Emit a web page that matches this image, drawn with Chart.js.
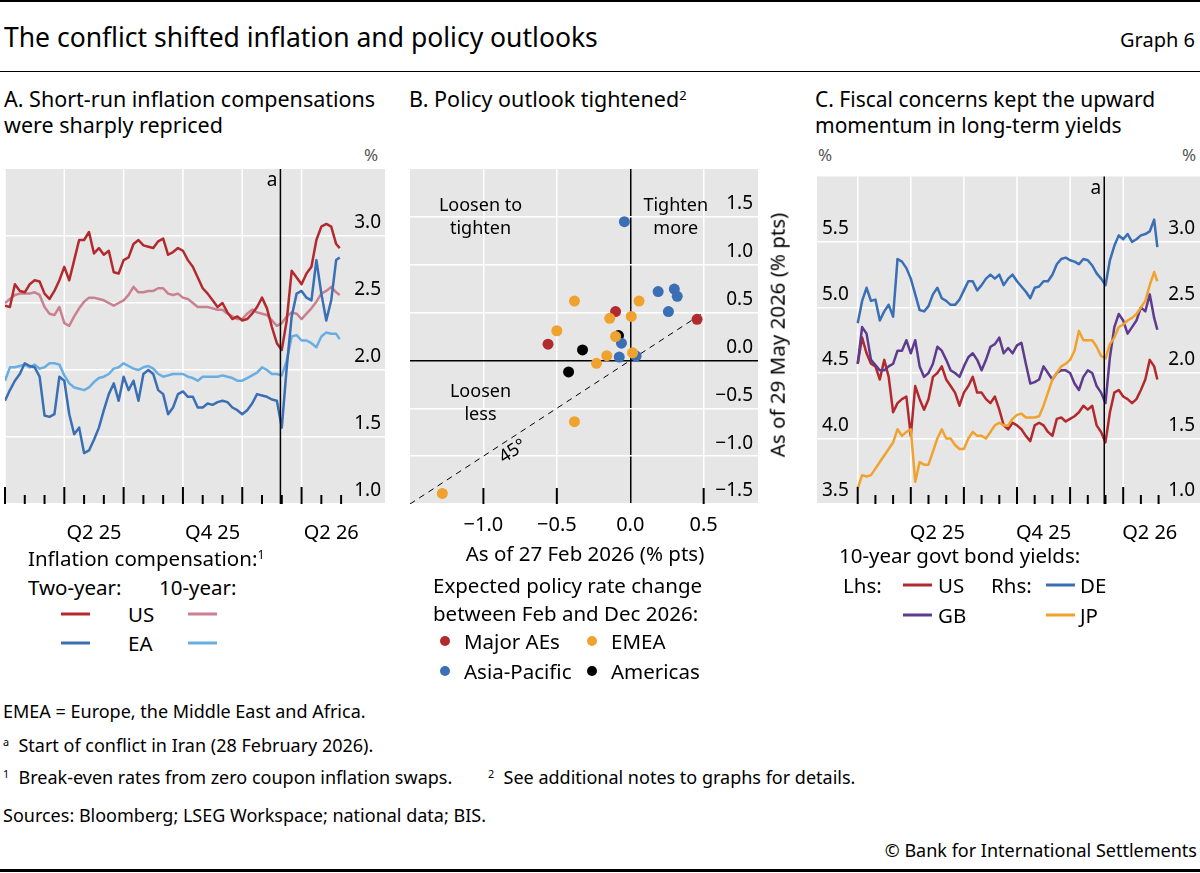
<!DOCTYPE html>
<html>
<head>
<meta charset="utf-8">
<script src="https://cdn.jsdelivr.net/npm/chart.js@4.4.1/dist/chart.umd.min.js"></script>
<style>
  body { margin: 0; width: 1200px; height: 873px; position: relative; background: #fff; font-family: "Noto Sans", sans-serif; color: #000; overflow: hidden; }
  .t { position: absolute; white-space: nowrap; line-height: 1.2; transform: translateY(-50%); }
  .rule { position: absolute; left: 0; width: 1200px; background: #000; }
  canvas { position: absolute; }
  sup { font-size: 0.6em; vertical-align: 0.55em; line-height: 0; }
  .sw { position: absolute; height: 3px; transform: translateY(-50%); }
  .dot { position: absolute; width: 10px; height: 10px; border-radius: 50%; transform: translate(-50%, -50%); }
  .fn { font-size: 18px; }
  .lg { font-size: 20.5px; }
</style>
</head>
<body>

<div class="rule" style="top:0;height:2px"></div>
<div class="t" style="left:4px;top:38px;font-size:26.5px">The conflict shifted inflation and policy outlooks</div>
<div class="t" style="right:5px;top:40px;font-size:20px">Graph 6</div>
<div class="rule" style="top:71px;height:1px"></div>

<!-- panel titles -->
<div class="t" style="left:4px;top:112px;font-size:21.5px;line-height:26px">A. Short-run inflation compensations<br>were sharply repriced</div>
<div class="t" style="left:409px;top:99px;font-size:21.5px;line-height:26px">B. Policy outlook tightened<sup>2</sup></div>
<div class="t" style="left:815px;top:112px;font-size:21px;line-height:26px">C. Fiscal concerns kept the upward<br>momentum in long-term yields</div>

<div class="t" style="left:364px;top:155px;font-size:17px;color:#555">%</div>
<div class="t" style="left:818px;top:155px;font-size:17px;color:#555">%</div>
<div class="t" style="left:1182px;top:155px;font-size:17px;color:#555">%</div>

<canvas id="chartA" width="400" height="390" style="left:0;top:160px"></canvas>
<canvas id="chartB" width="400" height="390" style="left:400px;top:160px"></canvas>
<canvas id="chartC" width="400" height="390" style="left:800px;top:160px"></canvas>

<!-- panel B axis titles -->
<div class="t lg" style="left:585px;top:553px;transform:translate(-50%,-50%)">As of 27 Feb 2026 (% pts)</div>
<div class="t lg" style="left:777px;top:335px;transform:translate(-50%,-50%) rotate(-90deg)">As of 29 May 2026 (% pts)</div>

<!-- legend A -->
<div class="t lg" style="left:28px;top:558px">Inflation compensation:<sup>1</sup></div>
<div class="t lg" style="left:28px;top:587px">Two-year:</div>
<div class="t lg" style="left:159px;top:587px">10-year:</div>
<div class="sw" style="left:61px;top:614px;width:29px;background:#b22a2e"></div>
<div class="t lg" style="left:128px;top:614px">US</div>
<div class="sw" style="left:188px;top:614px;width:29px;background:#c9808f"></div>
<div class="sw" style="left:61px;top:643px;width:29px;background:#3a6eb5"></div>
<div class="t lg" style="left:128px;top:643px">EA</div>
<div class="sw" style="left:188px;top:643px;width:29px;background:#69aee3"></div>

<!-- legend B -->
<div class="t lg" style="left:433px;top:585px">Expected policy rate change</div>
<div class="t lg" style="left:433px;top:613px">between Feb and Dec 2026:</div>
<div class="dot" style="left:445px;top:641px;background:#b22a2e"></div>
<div class="t lg" style="left:464px;top:641px">Major AEs</div>
<div class="dot" style="left:592px;top:641px;background:#f0a22e"></div>
<div class="t lg" style="left:611px;top:641px">EMEA</div>
<div class="dot" style="left:445px;top:671px;background:#3a6eb5"></div>
<div class="t lg" style="left:464px;top:671px">Asia-Pacific</div>
<div class="dot" style="left:592px;top:671px;background:#000"></div>
<div class="t lg" style="left:611px;top:671px">Americas</div>

<!-- legend C -->
<div class="t lg" style="left:839px;top:555px">10-year govt bond yields:</div>
<div class="t lg" style="left:843px;top:585px">Lhs:</div>
<div class="sw" style="left:903px;top:585px;width:29px;background:#b22a2e"></div>
<div class="t lg" style="left:938px;top:585px">US</div>
<div class="t lg" style="left:991px;top:585px">Rhs:</div>
<div class="sw" style="left:1046px;top:585px;width:29px;background:#3a6eb5"></div>
<div class="t lg" style="left:1080px;top:585px">DE</div>
<div class="sw" style="left:903px;top:615px;width:29px;background:#5e3b8f"></div>
<div class="t lg" style="left:938px;top:615px">GB</div>
<div class="sw" style="left:1046px;top:615px;width:29px;background:#f0a22e"></div>
<div class="t lg" style="left:1080px;top:615px">JP</div>

<!-- footer -->
<div class="t fn" style="left:3px;top:712px">EMEA = Europe, the Middle East and Africa.</div>
<div class="t fn" style="left:3px;top:746px"><sup>a</sup>&nbsp; Start of conflict in Iran (28 February 2026).</div>
<div class="t fn" style="left:3px;top:778px"><sup>1</sup>&nbsp; Break-even rates from zero coupon inflation swaps.</div>
<div class="t fn" style="left:488px;top:778px"><sup>2</sup>&nbsp; See additional notes to graphs for details.</div>
<div class="t fn" style="left:3px;top:816px">Sources: Bloomberg; LSEG Workspace; national data; BIS.</div>
<div class="t fn" style="right:3px;top:851px">© Bank for International Settlements</div>
<div class="rule" style="top:869px;height:3px"></div>

<script>
// x positions, months since 1 Jan 2025 (roughly weekly)
const months = [0, 0.25, 0.5, 0.75, 1, 1.25, 1.5, 1.75, 2, 2.25, 2.5, 2.75, 3, 3.25, 3.5, 3.75,
  4, 4.25, 4.5, 4.75, 5, 5.25, 5.5, 5.75, 6, 6.25, 6.5, 6.75, 7, 7.25, 7.5, 7.75,
  8, 8.25, 8.5, 8.75, 9, 9.25, 9.5, 9.75, 10, 10.25, 10.5, 10.75, 11, 11.25, 11.5, 11.75,
  12, 12.25, 12.5, 12.75, 13, 13.25, 13.5, 13.75, 14, 14.25, 14.5, 14.75, 15, 15.25, 15.5, 15.75,
  16, 16.25, 16.5, 16.75, 16.93];

const quarterStarts = [0, 3, 6, 9, 12, 15];
const monthTicks = [0, 1, 2, 3, 4, 5, 6, 7, 8, 9, 10, 11, 12, 13, 14, 15, 16, 17];
const quarterLabelPos = [4.5, 10.5, 16.5];
const quarterLabels = ['Q2 25', 'Q4 25', 'Q2 26'];
const conflictStart = 13.93; // 28 Feb 2026

// Panel A: inflation compensation, %
const usTwoYear = [2.48, 2.47, 2.64, 2.59, 2.58, 2.64, 2.67, 2.66, 2.57, 2.53, 2.59, 2.67, 2.77, 2.67, 2.82, 2.97,
  2.97, 3.03, 2.87, 2.91, 2.86, 2.89, 2.73, 2.72, 2.82, 2.84, 2.94, 2.97, 2.93, 2.92, 2.91, 2.96,
  2.98, 2.86, 2.88, 2.91, 2.89, 2.82, 2.77, 2.69, 2.61, 2.57, 2.52, 2.47, 2.50, 2.43, 2.38, 2.40,
  2.37, 2.38, 2.42, 2.47, 2.54, 2.46, 2.32, 2.20, 2.15, 2.37, 2.74, 2.69, 2.64, 2.72, 2.77, 2.97,
  3.07, 3.09, 3.07, 2.94, 2.91];
const usTenYear = [2.50, 2.53, 2.56, 2.57, 2.57, 2.57, 2.58, 2.56, 2.47, 2.42, 2.41, 2.47, 2.35, 2.33, 2.40, 2.46,
  2.51, 2.54, 2.54, 2.53, 2.52, 2.50, 2.48, 2.50, 2.52, 2.56, 2.62, 2.58, 2.58, 2.59, 2.59, 2.61,
  2.61, 2.57, 2.56, 2.57, 2.54, 2.53, 2.50, 2.47, 2.47, 2.47, 2.46, 2.45, 2.45, 2.42, 2.40, 2.38,
  2.38, 2.42, 2.45, 2.43, 2.42, 2.41, 2.37, 2.33, 2.35, 2.40, 2.43, 2.42, 2.38, 2.42, 2.46, 2.51,
  2.57, 2.59, 2.62, 2.58, 2.56];
const eaTwoYear = [1.77, 1.85, 1.92, 1.97, 2.05, 2.03, 2.02, 1.95, 1.66, 1.65, 1.67, 1.95, 1.92, 1.67, 1.52, 1.57,
  1.38, 1.40, 1.48, 1.57, 1.70, 1.82, 1.90, 1.77, 1.95, 1.85, 1.92, 1.77, 1.97, 2.00, 1.97, 1.85,
  1.82, 1.67, 1.72, 1.82, 1.84, 1.80, 1.80, 1.72, 1.72, 1.75, 1.74, 1.76, 1.77, 1.76, 1.72, 1.70,
  1.67, 1.70, 1.75, 1.82, 1.81, 1.80, 1.78, 1.77, 1.57, 2.02, 2.40, 2.57, 2.59, 2.54, 2.52, 2.82,
  2.57, 2.37, 2.52, 2.82, 2.84];
const eaTenYear = [1.92, 2.02, 2.02, 2.03, 2.04, 2.02, 2.04, 2.01, 2.02, 2.05, 2.05, 2.04, 1.96, 1.90, 1.87, 1.86,
  1.85, 1.87, 1.91, 1.94, 1.95, 1.97, 2.01, 2.02, 2.05, 2.03, 2.01, 2.00, 2.02, 2.03, 2.01, 1.97,
  1.95, 1.96, 1.97, 1.97, 1.97, 1.95, 1.94, 1.92, 1.95, 1.95, 1.95, 1.95, 1.96, 1.95, 1.94, 1.92,
  1.92, 1.94, 1.96, 1.98, 2.02, 2.00, 1.97, 1.97, 1.96, 2.07, 2.25, 2.26, 2.22, 2.22, 2.20, 2.17,
  2.25, 2.28, 2.27, 2.27, 2.23];
const ticksA = [1.0, 1.5, 2.0, 2.5, 3.0];

// Panel B: expected policy rate change, % pts (x = as of 27 Feb, y = as of 29 May)
const majorAEsX = [-0.10, -0.56, 0.455];
const majorAEsY = [0.51, 0.17, 0.43];
const emeaX = [-0.38, 0.06, -0.14, 0.007, -0.50, -0.10, -0.16, 0.016, -0.23, -0.38, -1.28];
const emeaY = [0.62, 0.62, 0.44, 0.46, 0.31, 0.25, 0.05, 0.08, -0.03, -0.64, -1.39];
const asiaPacX = [-0.04, 0.19, 0.30, 0.32, 0.26, -0.06, -0.075, 0.04];
const asiaPacY = [1.45, 0.72, 0.745, 0.67, 0.51, 0.18, 0.035, 0.045];
const americasX = [-0.08, -0.325, -0.42];
const americasY = [0.26, 0.11, -0.12];
const diagonal = [-1.5, 0.5];
const ticksBx = [-1.0, -0.5, 0.0, 0.5];
const ticksBy = [-1.5, -1.0, -0.5, 0.0, 0.5, 1.0, 1.5];

// Panel C: 10-year govt bond yields, %
const usYield = [4.57, 4.77, 4.65, 4.57, 4.55, 4.45, 4.60, 4.47, 4.20, 4.27, 4.30, 4.32, 4.02, 4.40, 4.30, 4.22,
  4.30, 4.47, 4.50, 4.55, 4.45, 4.40, 4.35, 4.25, 4.35, 4.40, 4.47, 4.35, 4.35, 4.30, 4.27, 4.32,
  4.22, 4.10, 4.07, 4.12, 4.10, 4.07, 4.02, 3.98, 4.10, 4.12, 4.10, 4.05, 4.02, 4.15, 4.16, 4.13,
  4.15, 4.17, 4.20, 4.25, 4.22, 4.25, 4.10, 4.05, 3.97, 4.20, 4.35, 4.37, 4.32, 4.30, 4.27, 4.30,
  4.37, 4.45, 4.60, 4.55, 4.45];
const gbYield = [4.57, 4.85, 4.80, 4.60, 4.56, 4.52, 4.52, 4.55, 4.57, 4.67, 4.67, 4.75, 4.65, 4.75, 4.55, 4.47,
  4.50, 4.57, 4.70, 4.67, 4.60, 4.52, 4.50, 4.47, 4.55, 4.62, 4.65, 4.60, 4.52, 4.60, 4.70, 4.72,
  4.77, 4.65, 4.69, 4.65, 4.71, 4.73, 4.57, 4.42, 4.43, 4.45, 4.55, 4.50, 4.45, 4.50, 4.52, 4.52,
  4.50, 4.42, 4.37, 4.47, 4.52, 4.50, 4.40, 4.35, 4.27, 4.62, 4.85, 4.95, 4.90, 4.80, 4.85, 4.90,
  5.00, 4.97, 5.10, 4.92, 4.83];
const deYield = [2.38, 2.55, 2.65, 2.55, 2.56, 2.40, 2.47, 2.52, 2.43, 2.87, 2.85, 2.80, 2.72, 2.60, 2.48, 2.47,
  2.51, 2.60, 2.65, 2.57, 2.55, 2.52, 2.52, 2.56, 2.63, 2.70, 2.70, 2.63, 2.67, 2.72, 2.75, 2.72,
  2.75, 2.67, 2.72, 2.75, 2.70, 2.66, 2.62, 2.57, 2.65, 2.66, 2.70, 2.70, 2.75, 2.83, 2.87, 2.88,
  2.86, 2.85, 2.83, 2.87, 2.86, 2.82, 2.76, 2.72, 2.67, 2.86, 2.97, 3.05, 3.02, 3.06, 3.00, 3.02,
  3.05, 3.06, 3.08, 3.17, 2.96];
const jpYield = [1.12, 1.22, 1.21, 1.22, 1.27, 1.32, 1.37, 1.42, 1.47, 1.57, 1.52, 1.55, 1.57, 1.17, 1.32, 1.30,
  1.30, 1.40, 1.50, 1.57, 1.50, 1.50, 1.45, 1.42, 1.42, 1.50, 1.55, 1.52, 1.52, 1.50, 1.55, 1.60,
  1.62, 1.60, 1.60, 1.65, 1.68, 1.69, 1.66, 1.66, 1.66, 1.67, 1.75, 1.85, 1.95, 2.00, 2.05, 2.07,
  2.10, 2.17, 2.32, 2.25, 2.25, 2.25, 2.20, 2.13, 2.11, 2.22, 2.27, 2.35, 2.37, 2.40, 2.42, 2.45,
  2.50, 2.55, 2.67, 2.77, 2.70];
const ticksCLeft = [3.5, 4.0, 4.5, 5.0, 5.5];
const ticksCRight = [1.0, 1.5, 2.0, 2.5, 3.0];

const RED = '#b22a2e', PINK = '#c9808f', BLUE = '#3a6eb5', LIGHTBLUE = '#69aee3';
const PURPLE = '#5e3b8f', ORANGE = '#f0a22e', PANEL = '#e6e6e6';

Chart.defaults.font.family = '"Noto Sans", sans-serif';
Chart.defaults.font.size = 19;
Chart.defaults.color = '#000';
Chart.defaults.animation = false;
Chart.defaults.plugins.legend.display = false;
Chart.defaults.plugins.tooltip.enabled = false;

const toPoints = (xs, ys) => xs.map((x, i) => ({ x: x, y: ys[i] }));
const fmt = v => v.toFixed(1).replace('-', '\u2212');
const setTicks = vals => scale => { scale.ticks = vals.map(v => ({ value: v })); };

function lineSet(values, color, axis) {
  return {
    data: toPoints(months, values),
    borderColor: color,
    borderWidth: 2.5,
    pointRadius: 0,
    tension: 0,
    borderJoinStyle: 'round',
    yAxisID: axis || 'y'
  };
}

function valueAxis(position, min, max, vals, pad, showGrid) {
  return {
    type: 'linear',
    position: position,
    min: min,
    max: max,
    afterBuildTicks: setTicks(vals),
    afterFit: s => { s.width = 0; },
    ticks: { mirror: true, padding: pad, labelOffset: -13, callback: v => fmt(v) },
    grid: {
      display: showGrid,
      drawTicks: false,
      lineWidth: 1.5,
      color: c => (c.tick && c.tick.value === 0 ? '#000' : '#fff')
    },
    border: { display: false }
  };
}

function timeAxis(min, max) {
  return {
    type: 'linear',
    min: min,
    max: max,
    afterBuildTicks: setTicks(quarterLabelPos),
    afterFit: s => { s.height = 46; },
    ticks: { padding: 9, maxRotation: 0, autoSkip: false, font: { size: 20 }, callback: (v, i) => quarterLabels[i] },
    grid: { display: false },
    border: { display: false }
  };
}

// grey panel behind the plot area
const panelBg = {
  id: 'panelBg',
  beforeDraw(chart) {
    const { ctx, chartArea: a } = chart;
    ctx.save();
    ctx.fillStyle = PANEL;
    ctx.fillRect(a.left, a.top, a.right - a.left, a.bottom - a.top);
    ctx.restore();
  }
};

// quarter gridlines, month ticks and the conflict line
const timeMarks = {
  id: 'timeMarks',
  beforeDatasetsDraw(chart) {
    const { ctx, chartArea: a, scales: { x } } = chart;
    ctx.save();
    ctx.strokeStyle = '#fff';
    ctx.lineWidth = 1.5;
    quarterStarts.forEach(m => {
      const px = x.getPixelForValue(m);
      ctx.beginPath(); ctx.moveTo(px, a.top); ctx.lineTo(px, a.bottom); ctx.stroke();
    });
    ctx.restore();
  },
  afterDatasetsDraw(chart) {
    const { ctx, chartArea: a, scales: { x } } = chart;
    ctx.save();
    ctx.strokeStyle = '#000';
    ctx.lineWidth = 2;
    monthTicks.forEach(m => {
      const px = x.getPixelForValue(m);
      const len = quarterStarts.includes(m) ? 17 : 9;
      ctx.beginPath(); ctx.moveTo(px, a.bottom); ctx.lineTo(px, a.bottom - len); ctx.stroke();
    });
    const ex = x.getPixelForValue(conflictStart);
    ctx.lineWidth = 1.5;
    ctx.beginPath(); ctx.moveTo(ex, a.top); ctx.lineTo(ex, a.bottom); ctx.stroke();
    ctx.fillStyle = '#000';
    ctx.font = '19px "Noto Sans", sans-serif';
    ctx.textAlign = 'right';
    ctx.textBaseline = 'middle';
    ctx.fillText('a', ex - 3, a.top + 12);
    ctx.restore();
  }
};

// panel B annotations: bottom ticks, quadrant labels and the 45 degree label
const scatterMarks = {
  id: 'scatterMarks',
  afterDatasetsDraw(chart) {
    const { ctx, chartArea: a, scales: { x, y } } = chart;
    ctx.save();
    ctx.strokeStyle = '#000';
    ctx.lineWidth = 2;
    ticksBx.filter(v => v !== 0).forEach(v => {
      const px = x.getPixelForValue(v);
      ctx.beginPath(); ctx.moveTo(px, a.bottom); ctx.lineTo(px, a.bottom - 16); ctx.stroke();
    });
    ctx.fillStyle = '#000';
    ctx.font = '18px "Noto Sans", sans-serif';
    ctx.textAlign = 'center';
    ctx.textBaseline = 'middle';
    [
      { vx: -1.02, vy: 1.49, lines: ['Loosen to', 'tighten'] },
      { vx: 0.31, vy: 1.49, lines: ['Tighten', 'more'] },
      { vx: -1.02, vy: -0.45, lines: ['Loosen', 'less'] }
    ].forEach(q => {
      const px = x.getPixelForValue(q.vx), py = y.getPixelForValue(q.vy);
      ctx.fillText(q.lines[0], px, py - 11.5);
      ctx.fillText(q.lines[1], px, py + 11.5);
    });
    const x0 = x.getPixelForValue(diagonal[0]), y0 = y.getPixelForValue(diagonal[0]);
    const x1 = x.getPixelForValue(diagonal[1]), y1 = y.getPixelForValue(diagonal[1]);
    ctx.translate(x.getPixelForValue(-0.80), y.getPixelForValue(-0.95));
    ctx.rotate(Math.atan2(y1 - y0, x1 - x0));
    ctx.fillText('45°', 0, 0);
    ctx.restore();
  }
};

// Panel A
new Chart(document.getElementById('chartA'), {
  type: 'line',
  data: {
    datasets: [
      lineSet(usTwoYear, RED),
      lineSet(eaTwoYear, BLUE),
      lineSet(usTenYear, PINK),
      lineSet(eaTenYear, LIGHTBLUE)
    ]
  },
  options: {
    responsive: false,
    layout: { padding: { left: 5, right: 15, top: 9, bottom: 0 } },
    scales: {
      x: timeAxis(0, 19.22),
      y: valueAxis('right', 1.0, 3.5, ticksA, -4, true)
    }
  },
  plugins: [panelBg, timeMarks]
});

// Panel B
const dotSet = (xs, ys, color) => ({
  data: toPoints(xs, ys),
  pointRadius: 5.5,
  pointBackgroundColor: color,
  pointBorderWidth: 0,
  backgroundColor: color,
  borderColor: color
});

new Chart(document.getElementById('chartB'), {
  type: 'scatter',
  data: {
    datasets: [
      dotSet(emeaX, emeaY, ORANGE),
      dotSet(asiaPacX, asiaPacY, BLUE),
      dotSet(majorAEsX, majorAEsY, RED),
      dotSet(americasX, americasY, '#000'),
      {
        data: toPoints(diagonal, diagonal),
        showLine: true,
        pointRadius: 0,
        borderColor: '#000',
        borderWidth: 1,
        borderDash: [6, 5]
      }
    ]
  },
  options: {
    responsive: false,
    layout: { padding: { left: 10, right: 42, top: 9, bottom: 0 } },
    scales: {
      x: {
        type: 'linear',
        min: -1.5,
        max: 0.87,
        afterBuildTicks: setTicks(ticksBx),
        afterFit: s => { s.height = 46; },
        ticks: { padding: 9, maxRotation: 0, autoSkip: false, font: { size: 20 }, callback: v => fmt(v) },
        grid: { drawTicks: false, lineWidth: 1.5, color: c => (c.tick && c.tick.value === 0 ? '#000' : '#fff') },
        border: { display: false }
      },
      y: valueAxis('right', -1.5, 2.0, ticksBy, -5, true)
    }
  },
  plugins: [panelBg, scatterMarks]
});

// Panel C
new Chart(document.getElementById('chartC'), {
  type: 'line',
  data: {
    datasets: [
      lineSet(jpYield, ORANGE, 'y2'),
      lineSet(gbYield, PURPLE, 'y'),
      lineSet(deYield, BLUE, 'y2'),
      lineSet(usYield, RED, 'y')
    ]
  },
  options: {
    responsive: false,
    layout: { padding: { left: 17, right: 0, top: 9, bottom: 0 } },
    scales: {
      x: timeAxis(-2.3, 19.34),
      y: valueAxis('left', 3.5, 6.0, ticksCLeft, 5, true),
      y2: valueAxis('right', 1.0, 3.5, ticksCRight, -5, false)
    }
  },
  plugins: [panelBg, timeMarks]
});
</script>
</body>
</html>
